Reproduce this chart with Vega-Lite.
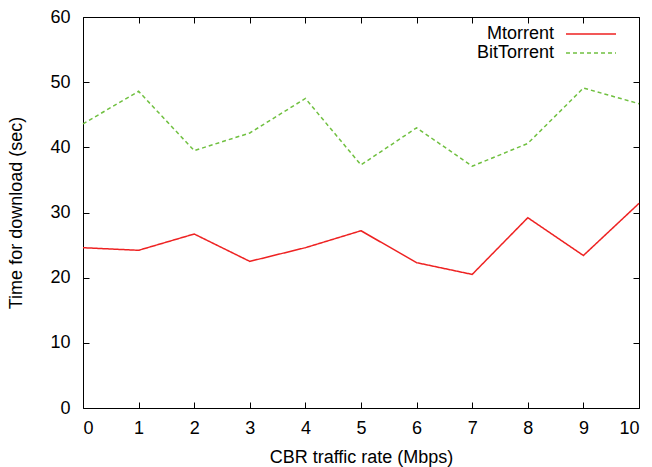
{
  "$schema": "https://vega.github.io/schema/vega-lite/v6.json",
  "width": 556,
  "height": 391,
  "autosize": {"type": "none"},
  "padding": {"left": 83, "top": 17, "right": 13, "bottom": 59},
  "background": "white",
  "config": {
    "view": {"stroke": null},
    "font": "Liberation Sans",
    "axis": {
      "domainColor": "black",
      "domainWidth": 1,
      "tickColor": "black",
      "tickSize": -6,
      "tickWidth": 1,
      "grid": false,
      "labelFont": "Liberation Sans",
      "labelFontSize": 18,
      "labelColor": "black",
      "titleFont": "Liberation Sans",
      "titleFontSize": 18,
      "titleFontWeight": "normal",
      "titleColor": "black"
    },
    "legend": {
      "labelFont": "Liberation Sans",
      "labelFontSize": 18,
      "labelColor": "black"
    }
  },
  "data": {
    "values": [
      {"rate": 0, "series": "Mtorrent", "time": 24.6},
      {"rate": 1, "series": "Mtorrent", "time": 24.2},
      {"rate": 2, "series": "Mtorrent", "time": 26.7},
      {"rate": 3, "series": "Mtorrent", "time": 22.5},
      {"rate": 4, "series": "Mtorrent", "time": 24.6},
      {"rate": 5, "series": "Mtorrent", "time": 27.2},
      {"rate": 6, "series": "Mtorrent", "time": 22.3},
      {"rate": 7, "series": "Mtorrent", "time": 20.5},
      {"rate": 8, "series": "Mtorrent", "time": 29.2},
      {"rate": 9, "series": "Mtorrent", "time": 23.4},
      {"rate": 10, "series": "Mtorrent", "time": 31.4},
      {"rate": 0, "series": "BitTorrent", "time": 43.6},
      {"rate": 1, "series": "BitTorrent", "time": 48.6},
      {"rate": 2, "series": "BitTorrent", "time": 39.5},
      {"rate": 3, "series": "BitTorrent", "time": 42.2},
      {"rate": 4, "series": "BitTorrent", "time": 47.5},
      {"rate": 5, "series": "BitTorrent", "time": 37.3},
      {"rate": 6, "series": "BitTorrent", "time": 43.0},
      {"rate": 7, "series": "BitTorrent", "time": 37.1},
      {"rate": 8, "series": "BitTorrent", "time": 40.6},
      {"rate": 9, "series": "BitTorrent", "time": 49.1},
      {"rate": 10, "series": "BitTorrent", "time": 46.7}
    ]
  },
  "layer": [
    {
      "mark": {"type": "line", "strokeWidth": 1.5},
      "encoding": {
        "x": {
          "field": "rate", "type": "quantitative",
          "scale": {"domain": [0, 10], "nice": false},
          "axis": {"orient": "bottom", "values": [0,1,2,3,4,5,6,7,8,9,10], "title": "CBR traffic rate (Mbps)", "labelPadding": 17, "titlePadding": 11}
        },
        "y": {
          "field": "time", "type": "quantitative",
          "scale": {"domain": [0, 60], "nice": false},
          "axis": {"orient": "left", "values": [0,10,20,30,40,50,60], "title": "Time for download (sec)", "labelPadding": 19, "titlePadding": 24}
        },
        "color": {
          "field": "series", "type": "nominal",
          "scale": {"domain": ["Mtorrent", "BitTorrent"], "range": ["#ee2222", "#70c040"]},
          "legend": {
            "title": null,
            "orient": "none",
            "legendX": 499,
            "legendY": 8,
            "symbolType": "M-5,0H5",
            "symbolSize": 100,
            "symbolStrokeWidth": 1.5,
            "labelAlign": "right",
            "labelOffset": -46,
            "rowPadding": 1,
            "padding": 0
          }
        },
        "strokeDash": {
          "field": "series", "type": "nominal",
          "scale": {"domain": ["Mtorrent", "BitTorrent"], "range": [[1, 0], [4, 3]]},
          "legend": {
            "title": null,
            "orient": "none",
            "legendX": 499,
            "legendY": 8,
            "symbolType": "M-5,0H5",
            "symbolSize": 100,
            "symbolStrokeWidth": 1.5,
            "labelAlign": "right",
            "labelOffset": -46,
            "rowPadding": 1,
            "padding": 0
          }
        }
      }
    },
    {
      "mark": {"type": "line", "opacity": 0},
      "encoding": {
        "x": {
          "field": "rate", "type": "quantitative",
          "scale": {"domain": [0, 10], "nice": false},
          "axis": {"orient": "top", "values": [0,1,2,3,4,5,6,7,8,9,10], "labels": false, "title": null}
        },
        "y": {
          "field": "time", "type": "quantitative",
          "scale": {"domain": [0, 60], "nice": false},
          "axis": {"orient": "right", "values": [0,10,20,30,40,50,60], "labels": false, "title": null}
        },
        "detail": {"field": "series", "type": "nominal"}
      }
    }
  ],
  "resolve": {"axis": {"x": "independent", "y": "independent"}}
}
